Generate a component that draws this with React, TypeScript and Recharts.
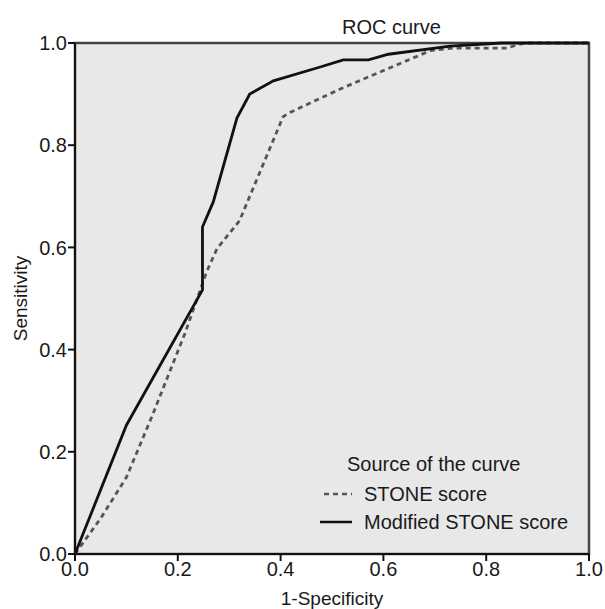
import React from 'react';
import { LineChart, Line, XAxis, YAxis, ReferenceArea } from 'recharts';

// ROC points (1-specificity, sensitivity)
const modifiedX = [0, 0.1, 0.248, 0.248, 0.269, 0.315, 0.34, 0.386, 0.477, 0.522, 0.571, 0.61, 0.73, 0.83, 1];
const modifiedY = [0, 0.252, 0.517, 0.64, 0.689, 0.853, 0.9, 0.926, 0.953, 0.967, 0.967, 0.978, 0.994, 1, 1];
const stoneX = [0, 0.05, 0.1, 0.15, 0.214, 0.256, 0.276, 0.32, 0.405, 0.418, 0.516, 0.691, 0.735, 0.84, 0.866, 0.88, 1];
const stoneY = [0, 0.07, 0.15, 0.27, 0.432, 0.552, 0.597, 0.652, 0.856, 0.864, 0.91, 0.985, 0.99, 0.99, 0.998, 1, 1];
const ticks = [0, 0.2, 0.4, 0.6, 0.8, 1];

const modifiedData = modifiedX.map((x, i) => ({ x, y: modifiedY[i] }));
const stoneData = stoneX.map((x, i) => ({ x, y: stoneY[i] }));

const FONT = '"Liberation Sans", Arial, sans-serif';

function LegendBox() {
  return (
    <div style={{ position: 'absolute', left: 318, top: 450, fontFamily: FONT, fontSize: 20, color: '#1a1a1a', lineHeight: '28px' }}>
      <div style={{ marginLeft: 29, marginBottom: 2 }}>Source of the curve</div>
      <div style={{ display: 'flex', alignItems: 'center' }}>
        <svg width={36} height={10}>
          <line x1={6} y1={5} x2={34} y2={5} stroke="#555" strokeWidth={2.5} strokeDasharray="5 4" />
        </svg>
        <span style={{ marginLeft: 10 }}>STONE score</span>
      </div>
      <div style={{ display: 'flex', alignItems: 'center' }}>
        <svg width={36} height={10}>
          <line x1={2} y1={5} x2={34} y2={5} stroke="#111" strokeWidth={2.5} />
        </svg>
        <span style={{ marginLeft: 10 }}>Modified STONE score</span>
      </div>
    </div>
  );
}

export default function App() {
  const tickStyle = { fontSize: 20, fill: '#1a1a1a', fontFamily: FONT };
  return (
    <div style={{ position: 'absolute', left: 0, top: 0, width: 605, height: 609, background: '#fff', overflow: 'hidden' }}>
      <div style={{ position: 'absolute', left: 342, top: 16, fontFamily: FONT, fontSize: 20, color: '#1a1a1a' }}>ROC curve</div>
      <LineChart width={605} height={609} data={modifiedData} margin={{ top: 43, right: 16, left: 0, bottom: 0 }}>
        <ReferenceArea x1={0} x2={1} y1={0} y2={1} fill="#e8e8e8" fillOpacity={1} stroke="#444" strokeWidth={2.5} ifOverflow="extendDomain" />
        <XAxis
          type="number"
          dataKey="x"
          domain={[0, 1]}
          ticks={ticks}
          tickFormatter={(v: number) => v.toFixed(1)}
          height={55}
          tickSize={7}
          tickMargin={1}
          stroke="#111"
          strokeWidth={2}
          tick={tickStyle}
          label={{ value: '1-Specificity', position: 'insideBottom', offset: 4, style: { ...tickStyle, fontSize: 19 } }}
        />
        <YAxis
          type="number"
          dataKey="y"
          domain={[0, 1]}
          ticks={ticks}
          tickFormatter={(v: number) => v.toFixed(1)}
          width={75}
          tickSize={7}
          tickMargin={1}
          stroke="#111"
          strokeWidth={2}
          tick={tickStyle}
          label={{ value: 'Sensitivity', angle: -90, position: 'insideLeft', offset: 20, style: { ...tickStyle, fontSize: 19, textAnchor: 'middle' } }}
        />
        <Line data={stoneData} dataKey="y" type="linear" stroke="#555" strokeWidth={2.8} strokeDasharray="5 4" dot={false} isAnimationActive={false} />
        <Line data={modifiedData} dataKey="y" type="linear" stroke="#111" strokeWidth={2.8} dot={false} isAnimationActive={false} />
      </LineChart>
      <LegendBox />
    </div>
  );
}
